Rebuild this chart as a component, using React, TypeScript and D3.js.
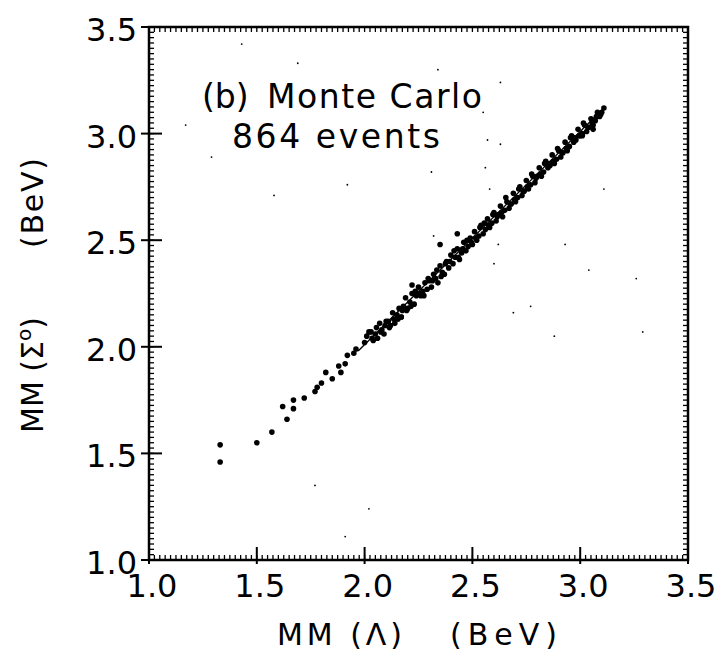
import * as d3 from "d3";

// axis ticks and labels
const majorTicks = [1.0, 1.5, 2.0, 2.5, 3.0, 3.5];
const tickLabels = ["1.0", "1.5", "2.0", "2.5", "3.0", "3.5"];

// isolated low-mass events
const lowEvents: [number, number][] = [
  [1.33, 1.54],
  [1.33, 1.46],
];

// sparse events at the lower end of the band
const tailEvents: [number, number][] = [
  [1.5, 1.55], [1.57, 1.6], [1.64, 1.66], [1.62, 1.72], [1.67, 1.71],
  [1.67, 1.75], [1.72, 1.76], [1.77, 1.79], [1.78, 1.81], [1.8, 1.83],
  [1.82, 1.88], [1.85, 1.85], [1.89, 1.88], [1.88, 1.91], [1.91, 1.92],
  [1.92, 1.96], [1.95, 1.97], [1.96, 1.99], [2.0, 2.02], [2.01, 2.05],
  [2.02, 2.07],
];

// dense band of events along the diagonal
const bandEvents: [number, number][] = [
  [2.03, 2.07], [2.04, 2.03], [2.05, 2.06], [2.06, 2.04], [2.07, 2.11],
  [2.08, 2.08], [2.09, 2.06], [2.1, 2.12], [2.11, 2.12], [2.12, 2.1],
  [2.13, 2.16], [2.14, 2.11], [2.15, 2.15], [2.16, 2.18], [2.17, 2.14],
  [2.18, 2.19], [2.19, 2.23], [2.2, 2.18], [2.21, 2.21], [2.22, 2.25],
  [2.23, 2.2], [2.24, 2.24], [2.25, 2.28], [2.26, 2.24], [2.27, 2.26],
  [2.28, 2.3], [2.29, 2.27], [2.3, 2.31], [2.31, 2.28], [2.32, 2.34],
  [2.33, 2.32], [2.34, 2.3], [2.35, 2.38], [2.36, 2.35], [2.37, 2.34],
  [2.38, 2.4], [2.39, 2.37], [2.4, 2.43], [2.41, 2.39], [2.42, 2.42],
  [2.43, 2.46], [2.44, 2.41], [2.45, 2.44], [2.46, 2.49], [2.47, 2.45],
  [2.48, 2.47], [2.49, 2.51], [2.5, 2.48], [2.51, 2.54], [2.52, 2.5],
  [2.53, 2.52], [2.54, 2.57], [2.55, 2.53], [2.56, 2.55], [2.57, 2.6],
  [2.58, 2.56], [2.59, 2.58], [2.6, 2.63], [2.61, 2.59], [2.62, 2.62],
  [2.63, 2.66], [2.64, 2.61], [2.65, 2.64], [2.66, 2.68], [2.67, 2.65],
  [2.68, 2.67], [2.69, 2.72], [2.7, 2.68], [2.71, 2.7], [2.72, 2.75],
  [2.73, 2.71], [2.74, 2.73], [2.75, 2.78], [2.76, 2.74], [2.77, 2.76],
  [2.78, 2.8], [2.79, 2.77], [2.8, 2.8], [2.81, 2.84], [2.82, 2.8],
  [2.83, 2.82], [2.84, 2.87], [2.85, 2.84], [2.86, 2.85], [2.87, 2.9],
  [2.88, 2.86], [2.89, 2.88], [2.9, 2.92], [2.91, 2.89], [2.92, 2.91],
  [2.93, 2.96], [2.94, 2.92], [2.95, 2.94], [2.96, 2.99], [2.97, 2.96],
  [2.98, 2.97], [2.99, 3.02], [3.0, 2.99], [3.01, 3.0], [3.02, 3.04],
  [3.03, 3.01], [3.04, 3.03], [3.05, 3.07], [3.06, 3.04], [3.07, 3.06],
  [3.08, 3.1], [3.09, 3.08], [3.1, 3.1], [3.11, 3.12],
  // second layer of the band
  [2.035, 2.04], [2.055, 2.09], [2.075, 2.07], [2.095, 2.1], [2.115, 2.09],
  [2.135, 2.13], [2.155, 2.13], [2.175, 2.17], [2.195, 2.17], [2.215, 2.19],
  [2.235, 2.26], [2.255, 2.25], [2.275, 2.24], [2.295, 2.32], [2.315, 2.31],
  [2.335, 2.36], [2.355, 2.33], [2.375, 2.39], [2.395, 2.4], [2.415, 2.45],
  [2.435, 2.42], [2.455, 2.46], [2.475, 2.5], [2.495, 2.49], [2.515, 2.51],
  [2.535, 2.56], [2.555, 2.58], [2.575, 2.57], [2.595, 2.62], [2.615, 2.61],
  [2.635, 2.63], [2.655, 2.7], [2.675, 2.67], [2.695, 2.69], [2.715, 2.74],
  [2.735, 2.73], [2.755, 2.75], [2.775, 2.81], [2.795, 2.79], [2.815, 2.81],
  [2.835, 2.86], [2.855, 2.86], [2.875, 2.87], [2.895, 2.93], [2.915, 2.91],
  [2.935, 2.93], [2.955, 2.98], [2.975, 2.98], [2.995, 2.99], [3.015, 3.05],
  [3.035, 3.03], [3.055, 3.05], [3.075, 3.08], [3.095, 3.09],
  // stray events just off the band
  [2.17, 2.14], [2.35, 2.48], [2.43, 2.53], [3.01, 2.99], [3.06, 3.02],
  [2.22, 2.29],
];

// fitted line drawn through the band
const fitLine: [number, number][] = [
  [1.97, 1.98],
  [3.11, 3.12],
];

// faint specks scattered over the plot
const specks: [number, number][] = [
  [1.77, 1.35], [2.02, 1.24], [1.91, 1.11], [2.58, 2.74], [2.62, 2.48],
  [2.93, 2.48], [3.04, 2.36], [3.26, 2.32], [2.77, 2.19], [2.88, 2.05],
  [3.29, 2.07], [2.69, 2.16], [2.32, 2.52], [2.31, 2.82], [2.56, 2.84],
  [3.11, 2.74], [2.6, 2.39], [1.17, 3.04], [1.29, 2.89], [1.43, 3.42],
  [1.69, 3.33], [2.34, 3.3], [2.63, 3.24], [2.55, 3.1], [2.57, 2.97],
  [2.63, 2.95], [1.92, 2.76], [1.58, 2.71],
];

const font = "'DejaVu Sans', sans-serif";

export default function App() {
  const width = 724;
  const height = 660;

  const x = d3.scaleLinear().domain([1, 3.5]).range([149, 688]);
  const y = d3.scaleLinear().domain([1, 3.5]).range([560, 27]);
  const minorTicks = d3.range(1, 3.5001, 0.025);
  const line = d3.line<[number, number]>()
    .x((d) => x(d[0]))
    .y((d) => y(d[1]));

  const x0 = x(1), x1 = x(3.5), y0 = y(1), y1 = y(3.5);

  return (
    <svg
      width={width}
      height={height}
      style={{ position: "absolute", left: 0, top: 0, background: "#fff" }}
      fontFamily={font}
    >
      <rect width={width} height={height} fill="#fff" />

      {/* minor ticks on all four sides, pointing inward */}
      <g stroke="#000" strokeWidth={1.3}>
        {minorTicks.map((t, i) => (
          <g key={i}>
            <line x1={x(t)} x2={x(t)} y1={y0} y2={y0 - 5} />
            <line x1={x(t)} x2={x(t)} y1={y1} y2={y1 + 5} />
            <line x1={x0} x2={x0 + 5} y1={y(t)} y2={y(t)} />
            <line x1={x1} x2={x1 - 5} y1={y(t)} y2={y(t)} />
          </g>
        ))}
      </g>

      {/* major ticks on left and bottom */}
      <g stroke="#000" strokeWidth={2}>
        {majorTicks.map((t) => (
          <g key={t}>
            <line x1={x(t)} x2={x(t)} y1={y0 + 4} y2={y0 - 13} />
            <line x1={x0 - 8} x2={x0 + 13} y1={y(t)} y2={y(t)} />
          </g>
        ))}
      </g>

      <rect
        x={x0}
        y={y1}
        width={x1 - x0}
        height={y0 - y1}
        fill="none"
        stroke="#000"
        strokeWidth={2.5}
      />

      {/* tick labels */}
      <g fontSize={32} fill="#000">
        {majorTicks.map((t, i) => (
          <text key={"x" + t} x={x(t) + 3} y={y0 + 37} textAnchor="middle">
            {tickLabels[i]}
          </text>
        ))}
        {majorTicks.map((t, i) => (
          <text key={"y" + t} x={x0 - 12} y={y(t) + 14} textAnchor="end">
            {tickLabels[i]}
          </text>
        ))}
      </g>

      {/* axis titles */}
      <g fontSize={30} fill="#000">
        <text x={277} y={645} textLength={125} lengthAdjust="spacing">
          MM (Λ)
        </text>
        <text x={450} y={645} textLength={107} lengthAdjust="spacing">
          (BeV)
        </text>
        <g transform="translate(43,433) rotate(-90)">
          <text x={0} y={0}>
            MM (Σ<tspan fontSize={20} dy={-12}>o</tspan>
            <tspan dy={12}>)</tspan>
          </text>
          <text x={185} y={0} textLength={90} lengthAdjust="spacing">
            (BeV)
          </text>
        </g>
      </g>

      {/* annotation */}
      <g fontSize={33} fill="#000">
        <text x={202} y={108}>(b)</text>
        <text x={267} y={108} textLength={215} lengthAdjust="spacing">
          Monte Carlo
        </text>
        <text x={232} y={148} textLength={208} lengthAdjust="spacing">
          864 events
        </text>
      </g>

      {/* data */}
      <path d={line(fitLine) ?? ""} fill="none" stroke="#000" strokeWidth={1.3} />
      <g fill="#000">
        {specks.map((d, i) => (
          <circle key={"s" + i} cx={x(d[0])} cy={y(d[1])} r={0.9} />
        ))}
        {lowEvents.concat(tailEvents, bandEvents).map((d, i) => (
          <circle key={"e" + i} cx={x(d[0])} cy={y(d[1])} r={2.8} />
        ))}
      </g>
    </svg>
  );
}
